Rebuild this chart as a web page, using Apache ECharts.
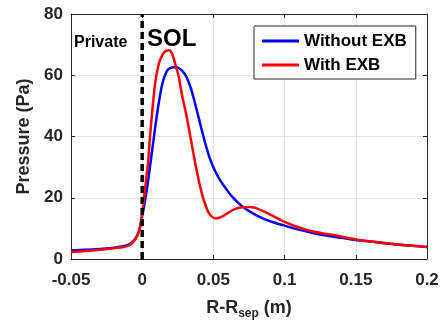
<!DOCTYPE html>
<html><head><meta charset="utf-8">
<script src="https://cdn.jsdelivr.net/npm/echarts@6/dist/echarts.min.js"></script>
<style>html,body{margin:0;padding:0;background:#fff}#c{width:445px;height:327px}</style>
</head><body><div id="c"></div>
<script>
const xTicks = [-0.05, 0, 0.05, 0.1, 0.15, 0.2];
const yTicks = [0, 20, 40, 60, 80];
const blueX = [-0.05,-0.04,-0.03,-0.02,-0.01,-0.005,-0.002,0,0.002,0.004,0.006,0.008,0.010,0.012,0.014,0.016,0.018,0.020,0.022,0.025,0.028,0.031,0.034,0.037,0.040,0.043,0.046,0.049,0.052,0.055,0.058,0.062,0.066,0.071,0.078,0.085,0.092,0.100,0.110,0.120,0.130,0.140,0.150,0.160,0.175,0.190,0.200];
const blueY = [2.8,3.0,3.3,3.7,4.6,6.5,9.5,14,19,25,32,39,46,52,57,60,61.8,62.4,62.6,62.5,61.5,59.5,56,51,45.5,40,35,31,28,25.5,23.5,21,19,16.9,14.8,13.2,12,10.9,9.6,8.5,7.6,6.9,6.2,5.7,4.9,4.3,3.9];
const redX = [-0.05,-0.04,-0.03,-0.02,-0.01,-0.005,-0.002,0,0.002,0.004,0.0055,0.007,0.009,0.011,0.013,0.015,0.017,0.019,0.021,0.023,0.0254,0.028,0.031,0.034,0.038,0.0418,0.0453,0.048,0.052,0.056,0.060,0.065,0.070,0.075,0.080,0.090,0.100,0.110,0.120,0.139,0.150,0.175,0.200];
const redY = [2.3,2.6,3.0,3.5,4.3,6.3,9.5,15,23,31,40,48,57,62.5,65.5,67.3,68,68.2,67,64,60,53.5,47,39.5,29.5,21.5,16.5,14.2,13.2,13.8,15,16.3,16.9,17,16.6,14.5,12.1,10.3,9,7.4,6.4,5.0,3.9];
const sepX = [0, 0];
const sepY = [0, 80];
const seriesNames = ['Without EXB', 'With EXB'];

const zip = (a, b) => a.map((v, i) => [v, b[i]]);
const FONT = '"Liberation Sans", Arial, sans-serif';
const fmt = v => String(parseFloat(v.toFixed(3)));
const chart = echarts.init(document.getElementById('c'), null, {renderer: 'canvas'});
const axisCommon = {
  axisLine: {show: true, onZero: false, lineStyle: {color: '#262626', width: 1}},
  axisTick: {show: true, inside: true, length: 4, lineStyle: {color: '#262626'}},
  splitLine: {show: false}
};
chart.setOption({
  animation: false,
  grid: {left: 71, right: 18, top: 14, bottom: 68},
  xAxis: [
    Object.assign({}, axisCommon, {type: 'value', min: xTicks[0], max: xTicks[xTicks.length-1], interval: 0.05,
      splitLine: {show: true, lineStyle: {color: '#e3e3e3', width: 1}},
      axisLabel: {formatter: fmt, color: '#262626', fontFamily: FONT, fontWeight: 'bold', fontSize: 17, margin: 13},
      name: 'R-R{sub|sep} (m)', nameLocation: 'middle', nameGap: 37,
      nameTextStyle: {color: '#262626', fontFamily: FONT, fontWeight: 'bold', fontSize: 18,
        rich: {sub: {fontFamily: FONT, fontWeight: 'bold', fontSize: 12, color: '#262626', verticalAlign: 'bottom', padding: [12, 0, 0, 0]}}}}),
    Object.assign({}, axisCommon, {type: 'value', position: 'top', min: xTicks[0], max: xTicks[xTicks.length-1], interval: 0.05, axisLabel: {show: false}})
  ],
  yAxis: [
    Object.assign({}, axisCommon, {type: 'value', min: yTicks[0], max: yTicks[yTicks.length-1], interval: 20,
      splitLine: {show: true, lineStyle: {color: '#e3e3e3', width: 1}},
      axisLabel: {color: '#262626', fontFamily: FONT, fontWeight: 'bold', fontSize: 17, margin: 8},
      name: 'Pressure (Pa)', nameLocation: 'middle', nameGap: 36,
      nameTextStyle: {color: '#262626', fontFamily: FONT, fontWeight: 'bold', fontSize: 18}}),
    Object.assign({}, axisCommon, {type: 'value', position: 'right', min: yTicks[0], max: yTicks[yTicks.length-1], interval: 20, axisLabel: {show: false}})
  ],
  legend: {
    left: 254, top: 26, orient: 'vertical',
    data: seriesNames,
    backgroundColor: '#fff', borderColor: '#262626', borderWidth: 1, borderRadius: 0,
    padding: [5, 9, 4, 8], itemGap: 4, itemWidth: 37, itemHeight: 3, itemTextGap: 4, icon: 'rect',
    textStyle: {color: '#000', fontFamily: FONT, fontWeight: 'bold', fontSize: 17, lineHeight: 20}
  },
  graphic: [
    {type: 'text', left: 74, top: 35, style: {text: 'Private', fill: '#000', font: 'bold 16px ' + FONT}},
    {type: 'text', left: 147, top: 27, style: {text: 'SOL', fill: '#000', font: 'bold 24px ' + FONT}}
  ],
  series: [
    {name: seriesNames[0], type: 'line', data: zip(blueX, blueY), smooth: 0.3, showSymbol: false, lineStyle: {color: '#0000ff', width: 2.5}, itemStyle: {color: '#0000ff'}, z: 3},
    {name: seriesNames[1], type: 'line', data: zip(redX, redY), smooth: 0.3, showSymbol: false, lineStyle: {color: '#ff0000', width: 2.5}, itemStyle: {color: '#ff0000'}, z: 4},
    {name: 'sep', type: 'line', data: zip(sepX, sepY), showSymbol: false, lineStyle: {color: '#000', width: 3.5, type: [7, 4]}, z: 5, silent: true}
  ]
});
</script></body></html>
